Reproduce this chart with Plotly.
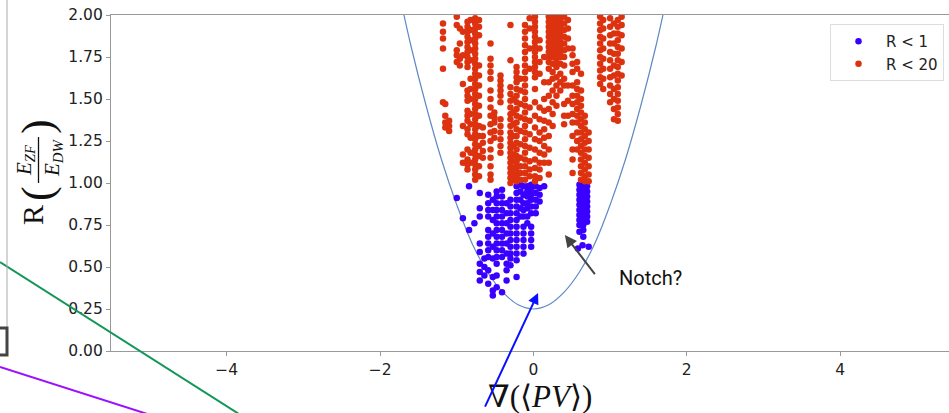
import plotly.graph_objects as go

# ---------------- data ----------------
# R < 20 (red) points, grouped by column: x position -> list of R values
red_cols_x = [-1.18, -1.15, -1.10, -1.00, -0.96, -0.92, -0.86, -0.82, -0.76, -0.71,
              -0.66, -0.56, -0.51, -0.43, -0.30, -0.26, -0.22, -0.17, -0.11, -0.05,
              0.02, 0.08, 0.14, 0.20, 0.25, 0.30, 0.35, 0.40, 0.45, 0.51,
              0.57, 0.62, 0.67, 0.72, 0.87, 0.91, 1.00, 1.05, 1.10, 1.15]
red_cols_y = [
    [1.95, 1.90, 1.86, 1.80, 1.68, 1.48],
    [1.47, 1.40, 1.36, 1.33],
    [1.37, 1.34, 1.31],
    [1.99, 1.94, 1.79, 1.76, 1.72],
    [1.92, 1.83, 1.74, 1.70],
    [1.90, 1.76, 1.59, 1.34, 1.17, 1.12],
    [1.96, 1.93, 1.90, 1.87, 1.84, 1.81, 1.78, 1.75, 1.72, 1.69, 1.55, 1.52, 1.49, 1.43,
     1.40, 1.37, 1.32, 1.29, 1.20, 1.14, 1.11, 1.08],
    [1.97, 1.91, 1.85, 1.79, 1.73, 1.62, 1.56, 1.50, 1.41, 1.35, 1.27, 1.18, 1.12],
    [1.98, 1.95, 1.92, 1.89, 1.86, 1.83, 1.80, 1.77, 1.74, 1.71, 1.68, 1.65, 1.62, 1.59,
     1.56, 1.53, 1.50, 1.47, 1.44, 1.41, 1.38, 1.35, 1.32, 1.29, 1.26, 1.23, 1.20, 1.17,
     1.14, 1.11, 1.08, 1.05, 1.02],
    [1.97, 1.93, 1.88, 1.70, 1.64, 1.58, 1.52, 1.46, 1.40, 1.34, 1.28, 1.22, 1.16, 1.10, 1.04],
    [1.33, 1.28, 1.24, 1.19, 1.15],
    [1.83, 1.74, 1.70, 1.66, 1.62, 1.55, 1.50, 1.45, 1.40, 1.35, 1.30, 1.25, 1.20, 1.15,
     1.10, 1.05, 1.02],
    [1.42, 1.39, 1.36, 1.31, 1.27],
    [1.64, 1.61, 1.58, 1.55, 1.52, 1.48, 1.38, 1.34, 1.30, 1.26, 1.22, 1.18],
    [1.94, 1.73, 1.57, 1.53, 1.49, 1.45, 1.41, 1.38, 1.34, 1.30, 1.27, 1.24, 1.21, 1.18,
     1.15, 1.12, 1.09, 1.06, 1.03, 1.00],
    [1.50, 1.42, 1.35, 1.28, 1.22, 1.17, 1.13, 1.09, 1.05, 1.02],
    [1.69, 1.66, 1.63, 1.60, 1.56, 1.52, 1.48, 1.44, 1.40, 1.36, 1.32, 1.28, 1.24, 1.20,
     1.16, 1.13, 1.10, 1.07, 1.04, 1.01],
    [1.62, 1.55, 1.47, 1.39, 1.31, 1.23, 1.15, 1.10, 1.06, 1.02],
    [1.94, 1.90, 1.86, 1.82, 1.78, 1.74, 1.70, 1.66, 1.62, 1.58, 1.54, 1.50, 1.46, 1.42,
     1.38, 1.34, 1.30, 1.26, 1.22, 1.18, 1.14, 1.10, 1.06, 1.02],
    [1.98, 1.92, 1.80, 1.68, 1.45, 1.37, 1.29, 1.21, 1.13, 1.08, 1.04],
    [1.99, 1.96, 1.93, 1.90, 1.87, 1.84, 1.81, 1.78, 1.75, 1.72, 1.69, 1.66, 1.63, 1.56,
     1.48, 1.40, 1.33, 1.26, 1.20, 1.14, 1.09, 1.04, 1.01],
    [1.85, 1.80, 1.72, 1.65, 1.45, 1.38, 1.30, 1.25, 1.18, 1.12, 1.08, 1.03],
    [1.75, 1.60, 1.50, 1.43, 1.37, 1.32, 1.27, 1.22, 1.17, 1.12],
    [1.99, 1.96, 1.93, 1.90, 1.87, 1.84, 1.81, 1.78, 1.75, 1.72, 1.68, 1.60, 1.52, 1.44,
     1.36, 1.28, 1.20, 1.12, 1.05],
    [1.99, 1.96, 1.93, 1.90, 1.87, 1.84, 1.81, 1.78, 1.75, 1.71, 1.66, 1.62, 1.55, 1.48,
     1.41, 1.34],
    [1.99, 1.96, 1.93, 1.90, 1.87, 1.84, 1.81, 1.78, 1.75, 1.72, 1.69, 1.63, 1.58, 1.52, 1.46],
    [1.99, 1.96, 1.93, 1.90, 1.87, 1.84, 1.81, 1.78, 1.75, 1.71, 1.65, 1.60, 1.55],
    [1.99, 1.95, 1.91, 1.87, 1.83, 1.79, 1.75, 1.70, 1.62, 1.58, 1.47, 1.40, 1.35],
    [1.97, 1.92, 1.86, 1.80, 1.58, 1.49, 1.40],
    [1.80, 1.76, 1.71, 1.66, 1.58, 1.52, 1.47, 1.41, 1.36, 1.28, 1.20, 1.14, 1.06],
    [1.72, 1.68, 1.60, 1.56, 1.52, 1.48, 1.44, 1.40, 1.36, 1.30, 1.25, 1.20],
    [1.65, 1.55, 1.50, 1.46, 1.42, 1.38, 1.34, 1.30, 1.26, 1.22, 1.18, 1.14, 1.10, 1.06, 1.02],
    [1.40, 1.36, 1.32, 1.28, 1.24, 1.20, 1.16, 1.12, 1.08, 1.04, 1.01],
    [1.30, 1.25, 1.20, 1.15, 1.10, 1.05, 1.01],
    [1.99, 1.95, 1.91, 1.87, 1.83, 1.79, 1.75, 1.71, 1.67, 1.63, 1.59],
    [1.97, 1.92, 1.86, 1.80, 1.74, 1.68, 1.62, 1.56],
    [1.98, 1.93, 1.88, 1.83, 1.78, 1.73, 1.68, 1.63, 1.58, 1.53, 1.48],
    [1.95, 1.89, 1.83, 1.77, 1.70, 1.64, 1.56, 1.50, 1.44, 1.38],
    [1.97, 1.93, 1.89, 1.85, 1.81, 1.77, 1.73, 1.69, 1.65, 1.61, 1.57, 1.53, 1.49, 1.45,
     1.41, 1.37],
    [1.99, 1.94, 1.88, 1.80, 1.72, 1.64],
]

# R < 1 (blue) points, grouped by column
blue_cols_x = [-1.00, -0.92, -0.84, -0.77, -0.70, -0.64, -0.59, -0.53, -0.48, -0.41,
               -0.35, -0.30, -0.22, -0.17, -0.13, -0.08, -0.03, 0.03, 0.08, 0.14,
               0.60, 0.65, 0.70, 0.58, 0.64, 0.72]
blue_cols_y = [
    [0.91],
    [0.79],
    [0.98, 0.72],
    [0.76],
    [0.94, 0.85, 0.80, 0.64, 0.59, 0.52, 0.47, 0.42],
    [0.55, 0.50, 0.45],
    [0.93, 0.88, 0.84, 0.80, 0.72, 0.68, 0.64, 0.60, 0.56, 0.48, 0.40],
    [0.90, 0.84, 0.78, 0.70, 0.62, 0.55, 0.44, 0.36, 0.33],
    [0.95, 0.92, 0.88, 0.84, 0.80, 0.76, 0.72, 0.68, 0.64, 0.60, 0.56, 0.52, 0.45, 0.38],
    [0.96, 0.92, 0.88, 0.84, 0.80, 0.76, 0.72, 0.68, 0.64, 0.60, 0.56, 0.35],
    [0.88, 0.82, 0.76, 0.70, 0.64, 0.58, 0.52, 0.48, 0.42],
    [0.90, 0.86, 0.82, 0.78, 0.74, 0.70, 0.66, 0.62, 0.58, 0.55, 0.51],
    [0.98, 0.94, 0.90, 0.86, 0.82, 0.78, 0.74, 0.70, 0.66, 0.62, 0.58, 0.54, 0.44],
    [0.99, 0.95, 0.90, 0.85, 0.80],
    [0.98, 0.93, 0.88, 0.84, 0.80, 0.74, 0.70, 0.66, 0.62, 0.58],
    [0.98, 0.95, 0.92, 0.88, 0.85, 0.80, 0.76],
    [0.99, 0.96, 0.93, 0.90, 0.86, 0.82, 0.74, 0.70, 0.66, 0.62],
    [0.98, 0.94, 0.90, 0.86, 0.82],
    [0.97, 0.93, 0.89],
    [0.98],
    [0.99, 0.96, 0.93, 0.90, 0.87, 0.84, 0.81, 0.78, 0.75, 0.71],
    [0.99, 0.96, 0.93, 0.90, 0.87, 0.84, 0.81, 0.78, 0.75, 0.72, 0.68],
    [0.98, 0.95, 0.92, 0.89, 0.86, 0.83, 0.80, 0.77],
    [0.61],
    [0.63],
    [0.62],
]

# fitted envelope curve
curve_x = [-1.75, -1.6, -1.4, -1.2, -1.0, -0.8, -0.6, -0.4, -0.2, 0.0,
           0.2, 0.4, 0.6, 0.8, 1.0, 1.2, 1.4, 1.6, 1.75]
curve_y = [2.13, 1.82, 1.46, 1.14, 0.87, 0.64, 0.47, 0.35, 0.275, 0.25,
           0.275, 0.35, 0.47, 0.64, 0.87, 1.14, 1.46, 1.82, 2.13]

x_ticks = [-4, -2, 0, 2, 4]
y_ticks = [0.0, 0.25, 0.5, 0.75, 1.0, 1.25, 1.5, 1.75, 2.0]
legend_labels = ["R < 1", "R < 20"]

# ---------------- build ----------------
red_x, red_y = [], []
for cx, ys in zip(red_cols_x, red_cols_y):
    red_x += [cx] * len(ys)
    red_y += ys
blue_x, blue_y = [], []
for cx, ys in zip(blue_cols_x, blue_cols_y):
    blue_x += [cx] * len(ys)
    blue_y += ys

BLUE = "#3a00ff"
RED = "#dd3210"

fig = go.Figure()
fig.add_trace(go.Scatter(x=curve_x, y=curve_y, mode="lines", line=dict(color="#6088c4", width=1.2, shape="spline"),
                         showlegend=False, hoverinfo="skip"))
fig.add_trace(go.Scatter(x=blue_x, y=blue_y, mode="markers", name=legend_labels[0],
                         marker=dict(color=BLUE, size=6.5, line=dict(width=0))))
fig.add_trace(go.Scatter(x=red_x, y=red_y, mode="markers", name=legend_labels[1],
                         marker=dict(color=RED, size=6.5, line=dict(width=0))))

L, R, T, B = 111, 0, 15, 62
W, H = 949, 413
PW, PH = W - L - R, H - T - B


def px(xp):
    return (xp - L) / PW


def py(yp):
    return (H - B - yp) / PH


SERIF = "Liberation Serif, DejaVu Serif, serif"
anns = []
# y-axis title pieces (rotated)
anns.append(dict(text="R", x=px(32), y=py(215), textangle=-90, font=dict(family=SERIF, size=30, color="#111")))
anns.append(dict(text="(", x=px(37), y=py(194), textangle=-90, font=dict(family=SERIF, size=44, color="#111")))
anns.append(dict(text="<i>E</i><sub><i>ZF</i></sub>", x=px(25), y=py(160), textangle=-90,
                 font=dict(family=SERIF, size=21, color="#111")))
anns.append(dict(text="<i>E</i><sub><i>DW</i></sub>", x=px(53), y=py(158), textangle=-90,
                 font=dict(family=SERIF, size=21, color="#111")))
anns.append(dict(text=")", x=px(37), y=py(127), textangle=-90, font=dict(family=SERIF, size=44, color="#111")))
# x-axis title
anns.append(dict(text="∇(⟨<i>PV</i>⟩)", x=px(540), y=py(396), font=dict(family=SERIF, size=31, color="#111")))
# Notch annotation
anns.append(dict(text="Notch?", x=px(650), y=py(278),
                 font=dict(family="Roboto, Liberation Sans, Arial, sans-serif", size=20, color="#111")))
anns.append(dict(text=" ", x=0.41, y=0.69, xref="x", yref="y", showarrow=True, ax=33, ay=43,
                 arrowhead=2, arrowsize=1.2, arrowwidth=2, arrowcolor="#444"))
# blue arrow
anns.append(dict(text=" ", x=0.06, y=0.345, xref="x", yref="y", showarrow=True, ax=-56, ay=132,
                 arrowhead=2, arrowsize=1.1, arrowwidth=2, arrowcolor="#0a10ff"))
for a in anns:
    a.setdefault("xref", "paper")
    a.setdefault("yref", "paper")
    a.setdefault("showarrow", False)
    a.setdefault("xanchor", "center")
    a.setdefault("yanchor", "middle")

shapes = [
    # fraction bar
    dict(type="line", xref="paper", yref="paper", x0=px(38.5), x1=px(38.5), y0=py(137), y1=py(183),
         line=dict(color="#111", width=1.3)),
    # green and purple stray lines
    dict(type="line", xref="paper", yref="paper", x0=px(0), y0=py(262), x1=px(250), y1=py(421),
         line=dict(color="#14965a", width=2)),
    dict(type="line", xref="paper", yref="paper", x0=px(0), y0=py(367), x1=px(160), y1=py(418),
         line=dict(color="#9a10ff", width=2)),
    # left panel edge
    dict(type="line", xref="paper", yref="paper", x0=px(7), y0=py(0), x1=px(7), y1=py(327),
         line=dict(color="#aaaaaa", width=1)),
    dict(type="path", xref="paper", yref="paper",
         path=f"M {px(0)},{py(328)} L {px(7)},{py(328)} L {px(7)},{py(355)} L {px(0)},{py(355)}",
         line=dict(color="#444", width=3)),
]

fig.update_layout(
    width=W, height=H,
    margin=dict(l=L, r=R, t=T, b=B, autoexpand=False),
    paper_bgcolor="white", plot_bgcolor="white",
    showlegend=True,
    legend=dict(x=px(830), y=py(24), xanchor="left", yanchor="top",
                bgcolor="white", bordercolor="#dddddd", borderwidth=1,
                font=dict(family="DejaVu Sans, sans-serif", size=15, color="#222"),
                itemwidth=45, tracegroupgap=0),
    xaxis=dict(range=[-5.51, 5.42], tickvals=x_ticks, showgrid=False, zeroline=False,
               showline=True, linecolor="#999", linewidth=1.2, mirror=True,
               ticks="outside", ticklen=4, tickcolor="#999",
               tickfont=dict(family="DejaVu Sans, sans-serif", size=15.5, color="#222")),
    yaxis=dict(range=[0, 2], tickvals=y_ticks, tickformat=".2f", showgrid=False, zeroline=False,
               showline=True, linecolor="#999", linewidth=1.2, mirror=False,
               ticks="outside", ticklen=4, tickcolor="#999",
               tickfont=dict(family="DejaVu Sans, sans-serif", size=15.5, color="#222")),
    annotations=anns,
    shapes=shapes,
)

fig.write_html("out.html")
